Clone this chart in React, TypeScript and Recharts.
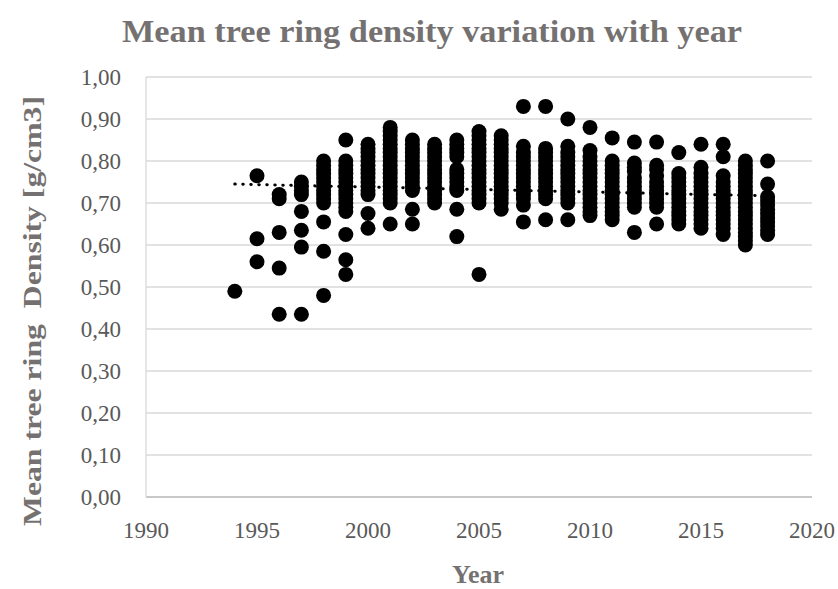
import React from 'react';
import { ScatterChart, Scatter, XAxis, YAxis, CartesianGrid } from 'recharts';

// Sampled ring densities [g/cm3] per growth year
const years = [
  1994, 1995, 1996, 1997, 1998, 1999, 2000, 2001, 2002, 2003, 2004, 2005,
  2006, 2007, 2008, 2009, 2010, 2011, 2012, 2013, 2014, 2015, 2016, 2017, 2018,
];

const d1994 = [0.49];
const d1995 = [0.765, 0.615, 0.56];
const d1996 = [0.72, 0.71, 0.63, 0.545, 0.435];
const d1997 = [0.75, 0.74, 0.73, 0.72, 0.68, 0.635, 0.595, 0.435];
const d1998 = [0.8, 0.79, 0.78, 0.77, 0.76, 0.75, 0.74, 0.73, 0.72, 0.71, 0.7, 0.655, 0.585, 0.48];
const d1999 = [0.85, 0.8, 0.79, 0.78, 0.77, 0.76, 0.75, 0.74, 0.73, 0.72, 0.71, 0.7, 0.69, 0.68, 0.625, 0.565, 0.53];
const d2000 = [0.84, 0.83, 0.82, 0.81, 0.8, 0.79, 0.78, 0.77, 0.76, 0.75, 0.74, 0.73, 0.72, 0.675, 0.64];
const d2001 = [0.88, 0.87, 0.86, 0.85, 0.84, 0.83, 0.82, 0.81, 0.8, 0.79, 0.78, 0.77, 0.76, 0.75, 0.74, 0.73, 0.72, 0.71, 0.7, 0.65];
const d2002 = [0.85, 0.84, 0.83, 0.82, 0.81, 0.8, 0.79, 0.78, 0.77, 0.76, 0.75, 0.74, 0.73, 0.685, 0.65];
const d2003 = [0.84, 0.83, 0.82, 0.81, 0.8, 0.79, 0.78, 0.77, 0.76, 0.75, 0.74, 0.73, 0.72, 0.71, 0.7];
const d2004 = [0.85, 0.84, 0.83, 0.82, 0.81, 0.78, 0.77, 0.76, 0.75, 0.74, 0.73, 0.685, 0.62];
const d2005 = [0.87, 0.86, 0.85, 0.84, 0.83, 0.82, 0.81, 0.8, 0.79, 0.78, 0.77, 0.76, 0.75, 0.74, 0.73, 0.72, 0.71, 0.7, 0.53];
const d2006 = [0.86, 0.85, 0.84, 0.83, 0.82, 0.81, 0.8, 0.79, 0.78, 0.77, 0.76, 0.75, 0.74, 0.73, 0.72, 0.71, 0.7, 0.685];
const d2007 = [0.93, 0.835, 0.82, 0.81, 0.8, 0.79, 0.78, 0.77, 0.76, 0.75, 0.74, 0.73, 0.72, 0.71, 0.695, 0.655];
const d2008 = [0.93, 0.83, 0.82, 0.81, 0.8, 0.79, 0.78, 0.77, 0.76, 0.75, 0.74, 0.73, 0.72, 0.71, 0.66];
const d2009 = [0.9, 0.835, 0.82, 0.81, 0.8, 0.79, 0.78, 0.77, 0.76, 0.75, 0.74, 0.73, 0.72, 0.71, 0.7, 0.66];
const d2010 = [0.88, 0.825, 0.81, 0.8, 0.79, 0.78, 0.77, 0.76, 0.75, 0.74, 0.73, 0.72, 0.71, 0.7, 0.69, 0.68, 0.67];
const d2011 = [0.855, 0.8, 0.79, 0.78, 0.77, 0.76, 0.75, 0.74, 0.73, 0.72, 0.71, 0.7, 0.69, 0.68, 0.67, 0.66];
const d2012 = [0.845, 0.795, 0.785, 0.775, 0.76, 0.75, 0.74, 0.73, 0.72, 0.71, 0.7, 0.69, 0.63];
const d2013 = [0.845, 0.79, 0.78, 0.765, 0.75, 0.74, 0.73, 0.72, 0.71, 0.7, 0.69, 0.65];
const d2014 = [0.82, 0.77, 0.76, 0.75, 0.74, 0.73, 0.72, 0.71, 0.7, 0.69, 0.68, 0.67, 0.66, 0.65];
const d2015 = [0.84, 0.785, 0.77, 0.76, 0.75, 0.74, 0.73, 0.72, 0.71, 0.7, 0.69, 0.68, 0.67, 0.66, 0.65, 0.64];
const d2016 = [0.84, 0.81, 0.765, 0.75, 0.74, 0.73, 0.72, 0.71, 0.7, 0.69, 0.68, 0.67, 0.66, 0.65, 0.64, 0.625];
const d2017 = [0.8, 0.79, 0.78, 0.77, 0.76, 0.75, 0.74, 0.73, 0.72, 0.71, 0.7, 0.69, 0.68, 0.67, 0.66, 0.65, 0.64, 0.63, 0.62, 0.61, 0.6];
const d2018 = [0.8, 0.745, 0.715, 0.705, 0.695, 0.685, 0.675, 0.665, 0.655, 0.645, 0.635, 0.625];

const densities = [
  d1994, d1995, d1996, d1997, d1998, d1999, d2000, d2001, d2002, d2003, d2004, d2005,
  d2006, d2007, d2008, d2009, d2010, d2011, d2012, d2013, d2014, d2015, d2016, d2017, d2018,
];

// linear trend end points
const trendYears = [1994, 2018];
const trendValues = [0.745, 0.717];

const xTicks = [1990, 1995, 2000, 2005, 2010, 2015, 2020];
const yTicks = [0, 0.1, 0.2, 0.3, 0.4, 0.5, 0.6, 0.7, 0.8, 0.9, 1.0];

const points = years.flatMap((year, i) => densities[i].map((density) => ({ year, density })));
const trend = trendYears.map((year, i) => ({ year, density: trendValues[i] }));

const font = 'Liberation Serif, Times New Roman, serif';
const tickStyle = { fill: '#595959', fontSize: 23, fontFamily: font };

const Dot = (props: any) => <circle cx={props.cx} cy={props.cy} r={7.5} fill="#000" />;
const NoDot = () => <g />;

export default function App() {
  return (
    <div style={{ position: 'absolute', left: 0, top: 0, width: 838, height: 589, background: '#fff', fontFamily: font }}>
      <ScatterChart width={838} height={589} margin={{ top: 77, right: 26, bottom: 0, left: 0 }}>
        <CartesianGrid vertical={false} stroke="#d9d9d9" strokeWidth={1.3} />
        <XAxis
          type="number"
          dataKey="year"
          domain={[1990, 2020]}
          ticks={xTicks}
          height={92}
          tickLine={false}
          tickSize={0}
          tickMargin={25}
          axisLine={{ stroke: '#bfbfbf', strokeWidth: 1.5 }}
          tick={tickStyle}
          allowDataOverflow
        />
        <YAxis
          type="number"
          dataKey="density"
          domain={[0, 1]}
          ticks={yTicks}
          width={146}
          tickLine={false}
          tickSize={0}
          tickMargin={25}
          axisLine={{ stroke: '#d9d9d9', strokeWidth: 1.3 }}
          tick={tickStyle}
          tickFormatter={(v: number) => v.toFixed(2).replace('.', ',')}
        />
        <Scatter
          data={trend}
          shape={NoDot}
          line={{ stroke: '#000', strokeWidth: 3, strokeDasharray: '0.5 7.5', strokeLinecap: 'round' }}
          isAnimationActive={false}
        />
        <Scatter data={points} shape={Dot} isAnimationActive={false} />
      </ScatterChart>
      <svg width={838} height={589} style={{ position: 'absolute', left: 0, top: 0, pointerEvents: 'none' }}>
        <text x={432} y={42} textAnchor="middle" fontFamily={font} fontWeight="bold" fontSize={31} fill="#757171" textLength={620} lengthAdjust="spacingAndGlyphs">
          Mean tree ring density variation with year
        </text>
        <text x={478} y={583} textAnchor="middle" fontFamily={font} fontWeight="bold" fontSize={26} fill="#757171">
          Year
        </text>
        <text
          x={0}
          y={0}
          transform="translate(41,311) rotate(-90)"
          textAnchor="middle"
          fontFamily={font}
          fontWeight="bold"
          fontSize={26}
          fill="#757171"
          textLength={430}
          lengthAdjust="spacingAndGlyphs"
          style={{ whiteSpace: 'pre' }}
        >
          Mean tree ring  Density [g/cm3]
        </text>
      </svg>
    </div>
  );
}
